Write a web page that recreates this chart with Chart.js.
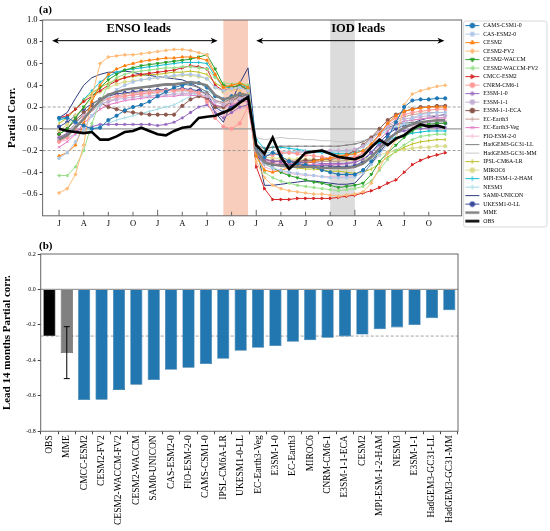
<!DOCTYPE html>
<html>
<head>
<meta charset="utf-8">
<script src="https://cdn.jsdelivr.net/npm/chart.js@4.4.1/dist/chart.umd.min.js"></script>
<style>
html, body { margin: 0; padding: 0; background: #fff; }
#wrap { width: 550px; height: 531px; position: relative; }
#ca { position: absolute; left: 0; top: 0; }
#cb { position: absolute; left: 0; top: 240px; }
</style>
</head>
<body>
<div id="wrap">
  <canvas id="ca" width="550" height="240"></canvas>
  <canvas id="cb" width="550" height="291"></canvas>
</div>
<script>
// ---- panel (a): partial correlation vs lead month ----
const leadMonths = [0,1,2,3,4,5,6,7,8,9,10,11,12,13,14,15,16,17,18,19,20,21,22,23,
                    24,25,26,27,28,29,30,31,32,33,34,35,36,37,38,39,40,41,42,43,44,45,46,47];
const monthTicks = [0,3,6,9,12,15,18,21,24,27,30,33,36,39,42,45];
const monthTickLabels = ['J','A','J','O','J','A','J','O','J','A','J','O','J','A','J','O'];
const corrTicks = [-0.6,-0.4,-0.2,0,0.2,0.4,0.6,0.8,1.0];

const camsCsm10 = [0.10,0.10,0.06,0.03,0.00,0.01,0.08,0.12,0.17,0.20,0.22,0.25,0.30,0.34,0.38,0.40,0.42,0.42,0.38,0.30,0.27,0.30,0.32,0.30,
  -0.18,-0.26,-0.22,-0.25,-0.30,-0.32,-0.33,-0.35,-0.38,-0.40,-0.42,-0.42,-0.42,-0.38,-0.30,-0.20,-0.08,0.06,0.20,0.26,0.27,0.27,0.28,0.28];
const casEsm20 = [-0.27,-0.22,-0.12,0.00,0.12,0.22,0.30,0.36,0.40,0.43,0.45,0.46,0.47,0.48,0.49,0.50,0.50,0.49,0.46,0.38,0.35,0.37,0.38,0.35,
  -0.20,-0.32,-0.36,-0.38,-0.40,-0.41,-0.42,-0.43,-0.44,-0.45,-0.45,-0.45,-0.44,-0.40,-0.33,-0.24,-0.14,-0.04,0.05,0.10,0.13,0.14,0.15,0.15];
const cesm2 = [-0.25,-0.22,-0.15,0.05,0.25,0.40,0.50,0.55,0.58,0.60,0.62,0.63,0.64,0.65,0.65,0.66,0.66,0.65,0.63,0.50,0.38,0.40,0.42,0.38,
  -0.25,-0.38,-0.40,-0.38,-0.36,-0.34,-0.32,-0.30,-0.28,-0.27,-0.25,-0.24,-0.23,-0.20,-0.14,-0.05,0.05,0.12,0.16,0.18,0.19,0.20,0.20,0.20];
const cesm2Fv2 = [-0.59,-0.55,-0.42,-0.15,0.30,0.60,0.66,0.67,0.68,0.68,0.69,0.70,0.71,0.72,0.73,0.73,0.72,0.70,0.68,0.50,0.38,0.36,0.35,0.30,
  -0.30,-0.45,-0.52,-0.55,-0.57,-0.58,-0.59,-0.60,-0.60,-0.61,-0.62,-0.61,-0.60,-0.58,-0.50,-0.36,-0.22,-0.10,0.22,0.32,0.35,0.37,0.39,0.40];
const cesm2Waccm = [-0.05,0.00,0.10,0.20,0.30,0.38,0.45,0.50,0.54,0.56,0.58,0.59,0.60,0.61,0.62,0.63,0.64,0.66,0.68,0.55,0.40,0.38,0.40,0.36,
  -0.20,-0.32,-0.36,-0.40,-0.43,-0.45,-0.47,-0.49,-0.50,-0.52,-0.54,-0.53,-0.52,-0.50,-0.42,-0.30,-0.22,-0.15,-0.08,-0.02,0.02,0.04,0.05,0.05];
const cesm2WaccmFv2 = [-0.43,-0.43,-0.35,-0.20,0.05,0.25,0.40,0.47,0.50,0.52,0.53,0.54,0.55,0.56,0.56,0.57,0.57,0.56,0.55,0.47,0.42,0.41,0.42,0.40,
  -0.25,-0.40,-0.45,-0.48,-0.50,-0.52,-0.53,-0.54,-0.55,-0.56,-0.57,-0.56,-0.55,-0.53,-0.48,-0.38,-0.28,-0.20,-0.15,-0.10,-0.07,-0.06,-0.05,-0.05];
const cmccEsm2 = [0.10,0.12,0.18,0.25,0.30,0.35,0.40,0.44,0.47,0.49,0.50,0.51,0.52,0.53,0.54,0.56,0.58,0.57,0.55,0.40,0.35,0.38,0.40,0.35,
  -0.35,-0.55,-0.65,-0.65,-0.65,-0.64,-0.64,-0.64,-0.64,-0.64,-0.63,-0.62,-0.61,-0.59,-0.57,-0.54,-0.50,-0.47,-0.40,-0.33,-0.29,-0.26,-0.24,-0.22];
const cnrmCm61 = [-0.12,-0.08,0.00,0.10,0.18,0.25,0.28,0.30,0.30,0.31,0.32,0.33,0.34,0.35,0.35,0.36,0.35,0.33,0.25,0.10,0.02,0.00,0.05,0.20,
  -0.18,-0.25,-0.24,-0.22,-0.22,-0.23,-0.24,-0.25,-0.26,-0.27,-0.27,-0.27,-0.26,-0.22,-0.15,-0.05,0.05,0.10,0.13,0.15,0.16,0.17,0.18,0.18];
const e3sm10 = [-0.08,-0.05,-0.02,0.00,0.02,0.04,0.04,0.04,0.04,0.04,0.04,0.04,0.03,0.04,0.06,0.10,0.15,0.20,0.22,0.15,0.10,0.15,0.20,0.22,
  -0.22,-0.28,-0.30,-0.30,-0.30,-0.31,-0.31,-0.31,-0.32,-0.32,-0.32,-0.32,-0.31,-0.28,-0.22,-0.15,-0.08,-0.04,-0.02,0.00,0.00,0.01,0.01,0.01];
const e3sm11 = [-0.10,-0.05,0.05,0.12,0.18,0.22,0.25,0.27,0.28,0.29,0.30,0.30,0.31,0.31,0.32,0.32,0.33,0.32,0.30,0.25,0.22,0.25,0.28,0.30,
  -0.20,-0.24,-0.24,-0.23,-0.22,-0.22,-0.21,-0.21,-0.20,-0.20,-0.20,-0.20,-0.19,-0.16,-0.10,-0.04,0.02,0.06,0.09,0.10,0.11,0.12,0.12,0.12];
const e3sm11Eca = [-0.05,0.00,0.08,0.15,0.20,0.24,0.20,0.18,0.16,0.15,0.14,0.13,0.13,0.13,0.13,0.21,0.27,0.30,0.28,0.20,0.20,0.25,0.30,0.28,
  -0.20,-0.28,-0.30,-0.30,-0.30,-0.30,-0.29,-0.29,-0.28,-0.28,-0.27,-0.24,-0.20,-0.15,-0.08,0.00,0.08,0.13,0.16,0.18,0.20,0.20,0.21,0.21];
const ecEarth3 = [-0.10,-0.06,0.02,0.10,0.18,0.24,0.28,0.30,0.32,0.33,0.34,0.35,0.35,0.36,0.36,0.36,0.35,0.34,0.32,0.26,0.24,0.27,0.30,0.30,
  -0.22,-0.28,-0.29,-0.29,-0.29,-0.30,-0.30,-0.30,-0.30,-0.30,-0.30,-0.29,-0.27,-0.22,-0.15,-0.06,0.03,0.08,0.11,0.13,0.14,0.15,0.15,0.15];
const ecEarth3Veg = [-0.17,-0.12,-0.05,0.05,0.12,0.18,0.22,0.24,0.26,0.27,0.28,0.29,0.29,0.30,0.30,0.31,0.31,0.30,0.28,0.22,0.20,0.22,0.25,0.25,
  -0.24,-0.30,-0.31,-0.32,-0.32,-0.32,-0.33,-0.33,-0.33,-0.33,-0.33,-0.32,-0.30,-0.25,-0.18,-0.10,-0.02,0.04,0.07,0.08,0.09,0.10,0.10,0.10];
const fioEsm20 = [-0.12,-0.10,-0.04,0.05,0.12,0.18,0.24,0.28,0.30,0.32,0.33,0.34,0.35,0.35,0.35,0.36,0.35,0.33,0.28,0.18,0.12,0.14,0.18,0.20,
  -0.25,-0.35,-0.38,-0.40,-0.41,-0.42,-0.43,-0.43,-0.44,-0.44,-0.44,-0.44,-0.42,-0.38,-0.30,-0.20,-0.10,-0.03,0.01,0.03,0.04,0.05,0.05,0.05];
const hadGc31Ll = [-0.08,-0.04,0.05,0.14,0.22,0.28,0.32,0.34,0.36,0.37,0.38,0.38,0.39,0.40,0.40,0.41,0.40,0.38,0.34,0.26,0.24,0.28,0.32,0.30,
  -0.15,-0.18,-0.17,-0.16,-0.16,-0.16,-0.16,-0.16,-0.16,-0.16,-0.16,-0.15,-0.14,-0.12,-0.08,-0.03,0.01,0.04,0.05,0.06,0.06,0.07,0.07,0.07];
const hadGc31Mm = [-0.10,-0.05,0.03,0.10,0.16,0.22,0.26,0.28,0.30,0.31,0.32,0.32,0.33,0.33,0.34,0.34,0.34,0.32,0.28,0.20,0.18,0.22,0.25,0.25,
  -0.08,-0.10,-0.09,-0.08,-0.09,-0.09,-0.10,-0.10,-0.11,-0.11,-0.12,-0.12,-0.12,-0.11,-0.08,-0.04,0.00,0.04,0.07,0.08,0.09,0.10,0.10,0.10];
const ipslCm6aLr = [0.05,0.10,0.18,0.26,0.33,0.38,0.42,0.45,0.47,0.48,0.49,0.50,0.50,0.51,0.52,0.52,0.53,0.52,0.50,0.42,0.38,0.40,0.42,0.40,
  -0.22,-0.30,-0.32,-0.34,-0.35,-0.36,-0.37,-0.37,-0.38,-0.39,-0.39,-0.40,-0.41,-0.40,-0.37,-0.32,-0.26,-0.21,-0.17,-0.14,-0.12,-0.11,-0.10,-0.10];
const miroc6 = [-0.02,0.04,0.12,0.20,0.28,0.34,0.38,0.41,0.43,0.44,0.45,0.46,0.47,0.48,0.48,0.49,0.49,0.48,0.46,0.38,0.34,0.36,0.38,0.35,
  -0.20,-0.26,-0.27,-0.27,-0.28,-0.28,-0.28,-0.28,-0.29,-0.29,-0.29,-0.29,-0.29,-0.28,-0.26,-0.24,-0.22,-0.20,-0.19,-0.18,-0.17,-0.17,-0.16,-0.16];
const mpiEsm12Ham = [0.08,0.10,0.18,0.27,0.35,0.43,0.48,0.52,0.54,0.55,0.56,0.57,0.58,0.59,0.60,0.61,0.61,0.61,0.60,0.48,0.38,0.38,0.40,0.38,
  -0.10,-0.18,-0.17,-0.17,-0.18,-0.19,-0.20,-0.21,-0.22,-0.22,-0.23,-0.23,-0.22,-0.20,-0.16,-0.13,-0.10,-0.08,-0.06,-0.04,-0.03,-0.02,-0.02,-0.02];
const nesm3 = [-0.10,-0.08,-0.05,-0.02,0.00,0.02,0.05,0.08,0.10,0.12,0.14,0.16,0.18,0.20,0.22,0.26,0.30,0.33,0.35,0.30,0.26,0.28,0.30,0.30,
  -0.18,-0.22,-0.22,-0.21,-0.21,-0.21,-0.21,-0.21,-0.21,-0.21,-0.21,-0.21,-0.20,-0.17,-0.12,-0.06,-0.01,0.02,0.04,0.05,0.05,0.05,0.05,0.05];
const sam0Unicon = [0.10,0.15,0.28,0.40,0.47,0.50,0.52,0.52,0.53,0.52,0.50,0.49,0.48,0.47,0.46,0.45,0.42,0.38,0.30,0.15,0.06,0.25,0.42,0.56,
  -0.15,-0.52,-0.52,-0.51,-0.50,-0.49,-0.48,-0.48,-0.49,-0.50,-0.51,-0.51,-0.50,-0.42,-0.32,-0.22,-0.12,-0.05,0.00,0.05,0.08,0.10,0.12,0.13];
const ukesm10Ll = [0.02,0.06,0.12,0.18,0.23,0.27,0.30,0.32,0.33,0.34,0.35,0.35,0.36,0.36,0.36,0.37,0.36,0.35,0.32,0.20,0.15,0.20,0.26,0.30,
  -0.25,-0.32,-0.33,-0.33,-0.33,-0.33,-0.34,-0.34,-0.34,-0.34,-0.35,-0.35,-0.34,-0.30,-0.22,-0.13,-0.05,0.00,0.03,0.04,0.05,0.05,0.05,0.05];
const mme = [-0.10,-0.06,0.01,0.09,0.18,0.26,0.31,0.34,0.36,0.37,0.38,0.39,0.40,0.41,0.41,0.42,0.43,0.42,0.40,0.31,0.27,0.29,0.32,0.31,
  -0.20,-0.31,-0.33,-0.34,-0.35,-0.35,-0.35,-0.35,-0.36,-0.36,-0.36,-0.36,-0.35,-0.32,-0.26,-0.18,-0.10,-0.04,0.01,0.04,0.06,0.07,0.08,0.08];
const obs = [0.00,-0.02,-0.03,-0.04,-0.03,-0.10,-0.10,-0.07,-0.03,-0.02,0.01,-0.02,-0.05,-0.06,-0.02,0.01,0.02,0.10,0.11,0.12,0.15,0.18,0.24,0.29,
  -0.15,-0.23,-0.08,-0.26,-0.37,-0.30,-0.22,-0.21,-0.20,-0.23,-0.26,-0.27,-0.28,-0.25,-0.17,-0.10,-0.15,-0.09,-0.06,0.00,0.04,0.02,0.03,0.01];

// ---- panel (b): lead 14 months partial corr. ----
const barNames = ['OBS','MME','CMCC-ESM2','CESM2-FV2','CESM2-WACCM-FV2','CESM2-WACCM','SAM0-UNICON','CAS-ESM2-0',
  'FIO-ESM-2-0','CAMS-CSM1-0','IPSL-CM6A-LR','UKESM1-0-LL','EC-Earth3-Veg','E3SM-1-0','EC-Earth3','MIROC6',
  'CNRM-CM6-1','E3SM-1-1-ECA','CESM2','MPI-ESM-1-2-HAM','NESM3','E3SM-1-1','HadGEM3-GC31-LL','HadGEM3-GC31-MM'];
const barValues = [-0.263,-0.359,-0.624,-0.622,-0.567,-0.537,-0.511,-0.453,-0.441,-0.421,-0.391,-0.346,
  -0.329,-0.319,-0.295,-0.287,-0.272,-0.265,-0.254,-0.225,-0.214,-0.201,-0.162,-0.118];
const mmeSpread = [-0.503, -0.210];
const obsRef = -0.263;
const barTicks = [-0.8,-0.6,-0.4,-0.2,0,0.2];

// annotation positions (lead months / corr units)
const ensoBand = [20, 23];
const iodBand = [33, 36];

const serif = '"Liberation Serif", "Times New Roman", serif';
Chart.defaults.font.family = serif;
Chart.defaults.color = '#000';

// line/marker look per series
const lineStyles = [
  ['CAMS-CSM1-0', camsCsm10, '#1f77b4', 'circle', 0],
  ['CAS-ESM2-0', casEsm20, '#aec7e8', 'rect', 0],
  ['CESM2', cesm2, '#ff7f0e', 'triangle', 0],
  ['CESM2-FV2', cesm2Fv2, '#ffbb78', 'rectRot', 0],
  ['CESM2-WACCM', cesm2Waccm, '#2ca02c', 'triangle', 180],
  ['CESM2-WACCM-FV2', cesm2WaccmFv2, '#98df8a', 'triangle', 270],
  ['CMCC-ESM2', cmccEsm2, '#d62728', 'triangle', 90],
  ['CNRM-CM6-1', cnrmCm61, '#ff9896', 'circle', 0],
  ['E3SM-1-0', e3sm10, '#9467bd', 'star', 0],
  ['E3SM-1-1', e3sm11, '#c5b0d5', 'circle', 0],
  ['E3SM-1-1-ECA', e3sm11Eca, '#8c564b', 'circle', 0],
  ['EC-Earth3', ecEarth3, '#c49c94', 'cross', 0],
  ['EC-Earth3-Veg', ecEarth3Veg, '#e377c2', 'crossRot', 0],
  ['FIO-ESM-2-0', fioEsm20, '#f7b6d2', 'line', 90],
  ['HadGEM3-GC31-LL', hadGc31Ll, '#7f7f7f', 'line', 0],
  ['HadGEM3-GC31-MM', hadGc31Mm, '#c7c7c7', false, 0],
  ['IPSL-CM6A-LR', ipslCm6aLr, '#bcbd22', 'line', 90],
  ['MIROC6', miroc6, '#dbdb8d', 'circle', 0],
  ['MPI-ESM-1-2-HAM', mpiEsm12Ham, '#17becf', 'cross', 0],
  ['NESM3', nesm3, '#9edae5', 'line', 90],
  ['SAM0-UNICON', sam0Unicon, '#2c3a7e', false, 0],
  ['UKESM1-0-LL', ukesm10Ll, '#3a4a9c', 'circle', 0],
];

function legendIcon(color, style, rot, width) {
  const c = document.createElement('canvas');
  c.width = 16; c.height = 7;
  const g = c.getContext('2d');
  g.strokeStyle = color; g.fillStyle = color;
  g.lineWidth = width;
  g.beginPath(); g.moveTo(1, 3.5); g.lineTo(15, 3.5); g.stroke();
  if (style) {
    g.lineWidth = 1;
    Chart.helpers.drawPoint(g, {pointStyle: style, radius: 2.4, rotation: rot, borderWidth: 1}, 8, 3.5);
  }
  return c;
}

const datasetsA = lineStyles.map(([name, vals, color, marker, rot]) => ({
  label: name,
  data: vals.map((v, i) => ({x: leadMonths[i], y: v})),
  borderColor: color,
  backgroundColor: color,
  borderWidth: 1,
  pointStyle: marker || 'circle',
  pointRadius: marker ? 1.6 : 0,
  pointRotation: rot,
  pointBorderWidth: 1,
  order: 0,
  icon: legendIcon(color, marker, rot, 1)
}));
datasetsA.push({
  label: 'MME', data: mme.map((v, i) => ({x: leadMonths[i], y: v})),
  borderColor: '#808080', backgroundColor: '#808080', borderWidth: 2.4, pointRadius: 0, order: -1,
  icon: legendIcon('#808080', false, 0, 2.4)
});
datasetsA.push({
  label: 'OBS', data: obs.map((v, i) => ({x: leadMonths[i], y: v})),
  borderColor: '#000', backgroundColor: '#000', borderWidth: 2.6, pointRadius: 0, order: -2,
  icon: legendIcon('#000', false, 0, 2.6)
});

function corrLabel(v) {
  const s = Math.abs(v).toFixed(1);
  return v < -0.001 ? '\u2212' + s : s;
}

function hline(ctx, a, py, color, dash, w) {
  ctx.save();
  ctx.strokeStyle = color; ctx.lineWidth = w; ctx.setLineDash(dash);
  ctx.beginPath(); ctx.moveTo(a.left, py); ctx.lineTo(a.right, py); ctx.stroke();
  ctx.restore();
}

function arrow(ctx, x1, x2, y) {
  ctx.save();
  ctx.strokeStyle = '#000'; ctx.fillStyle = '#000'; ctx.lineWidth = 1;
  ctx.beginPath(); ctx.moveTo(x1 + 3, y); ctx.lineTo(x2 - 3, y); ctx.stroke();
  [[x1, 1], [x2, -1]].forEach(([px, d]) => {
    ctx.beginPath(); ctx.moveTo(px, y); ctx.lineTo(px + 7 * d, y - 3); ctx.lineTo(px + 5 * d, y);
    ctx.lineTo(px + 7 * d, y + 3); ctx.closePath(); ctx.fill();
  });
  ctx.restore();
}

const decorA = {
  id: 'decorA',
  beforeDatasetsDraw(chart) {
    const {ctx, chartArea: a, scales: {x, y}} = chart;
    ctx.save();
    ctx.fillStyle = '#f8cdbb';
    ctx.fillRect(x.getPixelForValue(ensoBand[0]), a.top, x.getPixelForValue(ensoBand[1]) - x.getPixelForValue(ensoBand[0]), a.height);
    ctx.fillStyle = '#dcdcdc';
    ctx.fillRect(x.getPixelForValue(iodBand[0]), a.top, x.getPixelForValue(iodBand[1]) - x.getPixelForValue(iodBand[0]), a.height);
    ctx.restore();
    hline(ctx, a, y.getPixelForValue(0), '#9a9a9a', [], 1.3);
    hline(ctx, a, y.getPixelForValue(0.2), '#8a8a8a', [3, 2], 0.8);
    hline(ctx, a, y.getPixelForValue(-0.2), '#8a8a8a', [3, 2], 0.8);
  },
  afterDatasetsDraw(chart) {
    const {ctx, chartArea: a, scales: {x, y}} = chart;
    ctx.save();
    ctx.strokeStyle = '#666'; ctx.lineWidth = 1;
    ctx.strokeRect(a.left, a.top, a.width, a.height);
    monthTicks.forEach(m => {
      const px = x.getPixelForValue(m);
      ctx.beginPath(); ctx.moveTo(px, a.bottom); ctx.lineTo(px, a.bottom - (m % 12 === 0 ? 6 : 4)); ctx.stroke();
    });
    const ay = y.getPixelForValue(0.81);
    arrow(ctx, x.getPixelForValue(-0.85), x.getPixelForValue(19.3), ay);
    arrow(ctx, x.getPixelForValue(24.0), x.getPixelForValue(46.9), ay);
    ctx.font = 'bold 12.5px ' + serif;
    ctx.textAlign = 'center'; ctx.textBaseline = 'middle';
    ctx.fillText('ENSO leads', x.getPixelForValue(9.7), y.getPixelForValue(0.92));
    ctx.fillText('IOD leads', x.getPixelForValue(36.4), y.getPixelForValue(0.92));
    ctx.font = 'bold 11px ' + serif;
    ctx.textAlign = 'left';
    ctx.fillText('(a)', 39, 10);
    ctx.restore();
  },
  afterDraw(chart) {
    const l = chart.legend, ctx = chart.ctx;
    ctx.save();
    ctx.strokeStyle = '#cfcfcf'; ctx.lineWidth = 0.8;
    ctx.beginPath();
    ctx.roundRect(l.left + 2, l.top + 1, l.width - 3, l.height - 6, 2);
    ctx.stroke();
    ctx.restore();
  }
};

new Chart(document.getElementById('ca'), {
  type: 'line',
  data: {datasets: datasetsA},
  options: {
    responsive: false,
    animation: false,
    layout: {padding: {left: 6, top: 20, right: 2, bottom: 8}},
    plugins: {
      legend: {
        position: 'right',
        align: 'start',
        labels: {
          usePointStyle: true,
          pointStyleWidth: 16,
          padding: 2.7,
          font: {size: 5.8, family: serif},
          color: '#000',
          generateLabels(chart) {
            return chart.data.datasets.map((ds, i) => ({
              text: ds.label, pointStyle: ds.icon, fillStyle: ds.borderColor,
              strokeStyle: ds.borderColor, lineWidth: 0, hidden: false, datasetIndex: i, fontColor: '#000'
            }));
          }
        }
      },
      tooltip: {enabled: false}
    },
    scales: {
      x: {
        type: 'linear', min: -2, max: 49,
        afterBuildTicks(scale) { scale.ticks = monthTicks.map(v => ({value: v})); },
        ticks: {font: {size: 8.5}, padding: 3, callback: (v, i) => monthTickLabels[i]},
        grid: {display: false, drawTicks: false},
        border: {display: false}
      },
      y: {
        min: -0.8, max: 1.0,
        afterBuildTicks(scale) { scale.ticks = corrTicks.map(v => ({value: v})); },
        ticks: {font: {size: 8.5}, padding: 2, callback: v => corrLabel(v)},
        grid: {drawOnChartArea: false, tickLength: 3, color: '#444'},
        border: {display: false},
        title: {display: true, text: 'Partial Corr.', font: {size: 11, weight: 'bold'}, padding: {top: 0, bottom: 1}}
      }
    }
  },
  plugins: [decorA]
});

// ---- panel (b) ----
const barColors = barNames.map((n, i) => i === 0 ? '#000000' : i === 1 ? '#808080' : '#2277b0');

const decorB = {
  id: 'decorB',
  beforeDatasetsDraw(chart) {
    const {ctx, chartArea: a, scales: {y}} = chart;
    hline(ctx, a, y.getPixelForValue(obsRef), '#9a9a9a', [3, 2], 0.9);
  },
  afterDatasetsDraw(chart) {
    const {ctx, chartArea: a, scales: {x, y}} = chart;
    hline(ctx, a, y.getPixelForValue(0), '#9a9a9a', [], 1.2);
    ctx.save();
    ctx.strokeStyle = '#000'; ctx.lineWidth = 1;
    const ex = x.getPixelForValue(1);
    const y1 = y.getPixelForValue(mmeSpread[0]), y2 = y.getPixelForValue(mmeSpread[1]);
    ctx.beginPath();
    ctx.moveTo(ex, y1); ctx.lineTo(ex, y2);
    ctx.moveTo(ex - 3, y1); ctx.lineTo(ex + 3, y1);
    ctx.moveTo(ex - 3, y2); ctx.lineTo(ex + 3, y2);
    ctx.stroke();
    ctx.strokeStyle = '#666';
    ctx.strokeRect(a.left, a.top, a.width, a.height);
    ctx.font = 'bold 11px ' + serif;
    ctx.fillStyle = '#000'; ctx.textBaseline = 'middle';
    ctx.fillText('(b)', 39, 6);
    ctx.restore();
  }
};

new Chart(document.getElementById('cb'), {
  type: 'bar',
  data: {
    labels: barNames,
    datasets: [{
      data: barValues,
      backgroundColor: barColors,
      borderColor: barNames.map((n, i) => i < 2 ? '#222' : '#1d6a9e'),
      borderWidth: 0.6,
      categoryPercentage: 1,
      barPercentage: 0.7
    }]
  },
  options: {
    responsive: false,
    animation: false,
    layout: {padding: {left: 1, top: 14, right: 92, bottom: 5}},
    plugins: {legend: {display: false}, tooltip: {enabled: false}},
    scales: {
      x: {
        ticks: {font: {size: 9.5}, minRotation: 90, maxRotation: 90, autoSkip: false, padding: 1},
        grid: {drawOnChartArea: false, tickLength: 3, color: '#444'},
        border: {display: false}
      },
      y: {
        min: -0.8, max: 0.2,
        afterBuildTicks(scale) { scale.ticks = barTicks.map(v => ({value: v})); },
        ticks: {font: {size: 6}, padding: 2, callback: v => v.toFixed(1)},
        grid: {drawOnChartArea: false, tickLength: 3, color: '#444'},
        border: {display: false},
        title: {display: true, text: 'Lead 14 months Partial corr.', font: {size: 11, weight: 'bold'}, padding: {top: 0, bottom: 10}}
      }
    }
  },
  plugins: [decorB]
});
</script>
</body>
</html>
